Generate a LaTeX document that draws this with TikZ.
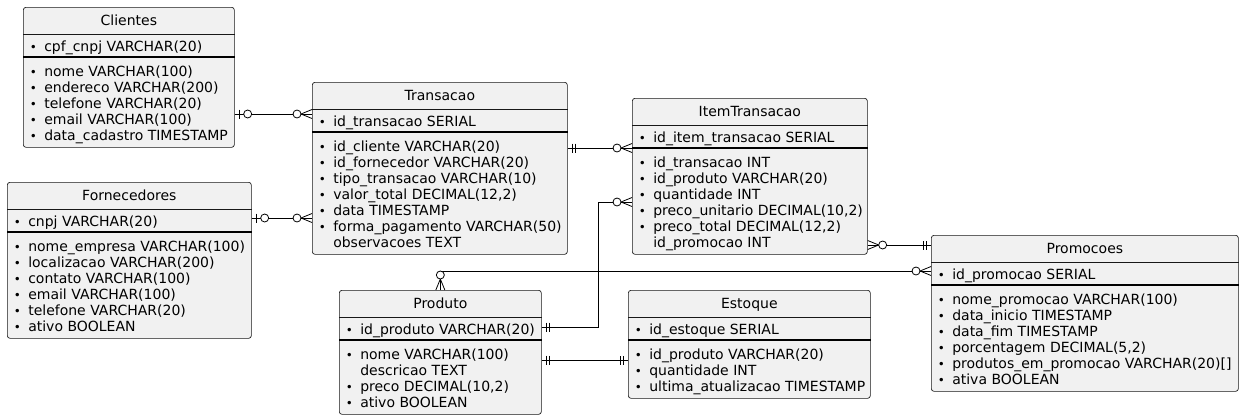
\documentclass[tikz,border=0pt]{standalone}
\usepackage{fontspec}
\setmainfont{DejaVu Sans}
\usetikzlibrary{positioning,calc}
\definecolor{entfill}{HTML}{F1F1F1}
\definecolor{entline}{HTML}{181818}
\newcommand{\erfont}{\fontsize{10.5pt}{12pt}\selectfont}
\newcommand{\bu}{\llap{\makebox[16.5pt]{\scalebox{0.85}{•}}}}
\tikzset{
ent/.style={draw=entline,fill=entfill,line width=0.5pt,rounded corners=2pt,anchor=north west,inner sep=0pt},
entsize/.style 2 args={minimum width=#1*0.75pt,minimum height=#2*0.75pt},
ttl/.style={anchor=base,inner sep=0pt,font=\erfont},
row/.style={anchor=base west,inner sep=0pt,font=\erfont},
tsep/.style={draw=entline,line width=0.5pt},
ksep/.style={draw=black,line width=0.8pt},
rel/.style={draw=black,line width=0.6pt},
one/.pic={\draw[rel] (5,-4.5) -- (5,4.5) (8,-4.5) -- (8,4.5);},
zone/.pic={\draw[rel] (5,-4.5) -- (5,4.5);
  \draw[rel,fill=white] (13,0) circle (4);},
zmany/.pic={\draw[rel] (11,0) -- (0,-4.5) (11,0) -- (0,4.5);
  \draw[rel,fill=white] (15,0) circle (4);},
}

\begin{document}
\begin{tikzpicture}[x=0.75pt,y=-0.75pt]
	\useasboundingbox[fill=white] (0,0) rectangle (1244,418);

	% Clientes
	\node[ent,entsize={211}{140}] (cli) at (23,7) {};
	\node[ttl] (cli-t) at ($(cli.north)+(0,18.5)$) {Clientes};
	\draw[tsep] ($(cli.north west)+(0,27)$) -- ($(cli.north east)+(0,27)$);
	\node[row] (cli-k) at ($(cli.north west)+(21,44)$) {\bu cpf\_cnpj VARCHAR(20)};
	\draw[ksep] ($(cli.north west)+(0,50)$) -- ($(cli.north east)+(0,50)$);
	\foreach \txt [count=\i from 0] in {{\bu nome VARCHAR(100)},{\bu endereco VARCHAR(200)},
		{\bu telefone VARCHAR(20)},{\bu email VARCHAR(100)},{\bu data\_cadastro TIMESTAMP}}
		\node[row] (cli-\i) at ($(cli.north west)+(21,69+16*\i)$) {\txt};

	% Fornecedores
	\node[ent,entsize={244}{156}] (frn) at (7,182) {};
	\node[ttl] (frn-t) at ($(frn.north)+(0,18.5)$) {Fornecedores};
	\draw[tsep] ($(frn.north west)+(0,27)$) -- ($(frn.north east)+(0,27)$);
	\node[row] (frn-k) at ($(frn.north west)+(21,44)$) {\bu cnpj VARCHAR(20)};
	\draw[ksep] ($(frn.north west)+(0,50)$) -- ($(frn.north east)+(0,50)$);
	\foreach \txt [count=\i from 0] in {{\bu nome\_empresa VARCHAR(100)},{\bu localizacao VARCHAR(200)},
		{\bu contato VARCHAR(100)},{\bu email VARCHAR(100)},{\bu telefone VARCHAR(20)},{\bu ativo BOOLEAN}}
		\node[row] (frn-\i) at ($(frn.north west)+(21,69+16*\i)$) {\txt};

	% Transacao
	\node[ent,entsize={255}{172}] (tra) at (312,82) {};
	\node[ttl] (tra-t) at ($(tra.north)+(0,18.5)$) {Transacao};
	\draw[tsep] ($(tra.north west)+(0,27)$) -- ($(tra.north east)+(0,27)$);
	\node[row] (tra-k) at ($(tra.north west)+(21,44)$) {\bu id\_transacao SERIAL};
	\draw[ksep] ($(tra.north west)+(0,50)$) -- ($(tra.north east)+(0,50)$);
	\foreach \txt [count=\i from 0] in {{\bu id\_cliente VARCHAR(20)},{\bu id\_fornecedor VARCHAR(20)},
		{\bu tipo\_transacao VARCHAR(10)},{\bu valor\_total DECIMAL(12,2)},{\bu data TIMESTAMP},
		{\bu forma\_pagamento VARCHAR(50)},{observacoes TEXT}}
		\node[row] (tra-\i) at ($(tra.north west)+(21,69+16*\i)$) {\txt};

	% ItemTransacao
	\node[ent,entsize={235}{156}] (itm) at (632,98) {};
	\node[ttl] (itm-t) at ($(itm.north)+(0,18.5)$) {ItemTransacao};
	\draw[tsep] ($(itm.north west)+(0,27)$) -- ($(itm.north east)+(0,27)$);
	\node[row] (itm-k) at ($(itm.north west)+(21,44)$) {\bu id\_item\_transacao SERIAL};
	\draw[ksep] ($(itm.north west)+(0,50)$) -- ($(itm.north east)+(0,50)$);
	\foreach \txt [count=\i from 0] in {{\bu id\_transacao INT},{\bu id\_produto VARCHAR(20)},
		{\bu quantidade INT},{\bu preco\_unitario DECIMAL(10,2)},{\bu preco\_total DECIMAL(12,2)},
		{id\_promocao INT}}
		\node[row] (itm-\i) at ($(itm.north west)+(21,69+16*\i)$) {\txt};

	% Produto
	\node[ent,entsize={202}{124}] (pro) at (339,290) {};
	\node[ttl] (pro-t) at ($(pro.north)+(0,18.5)$) {Produto};
	\draw[tsep] ($(pro.north west)+(0,27)$) -- ($(pro.north east)+(0,27)$);
	\node[row] (pro-k) at ($(pro.north west)+(21,44)$) {\bu id\_produto VARCHAR(20)};
	\draw[ksep] ($(pro.north west)+(0,50)$) -- ($(pro.north east)+(0,50)$);
	\foreach \txt [count=\i from 0] in {{\bu nome VARCHAR(100)},{descricao TEXT},
		{\bu preco DECIMAL(10,2)},{\bu ativo BOOLEAN}}
		\node[row] (pro-\i) at ($(pro.north west)+(21,69+16*\i)$) {\txt};

	% Estoque
	\node[ent,entsize={242}{108}] (est) at (628,290) {};
	\node[ttl] (est-t) at ($(est.north)+(0,18.5)$) {Estoque};
	\draw[tsep] ($(est.north west)+(0,27)$) -- ($(est.north east)+(0,27)$);
	\node[row] (est-k) at ($(est.north west)+(21,44)$) {\bu id\_estoque SERIAL};
	\draw[ksep] ($(est.north west)+(0,50)$) -- ($(est.north east)+(0,50)$);
	\foreach \txt [count=\i from 0] in {{\bu id\_produto VARCHAR(20)},{\bu quantidade INT},
		{\bu ultima\_atualizacao TIMESTAMP}}
		\node[row] (est-\i) at ($(est.north west)+(21,69+16*\i)$) {\txt};

	% Promocoes
	\node[ent,entsize={307}{156}] (pmc) at (931,235) {};
	\node[ttl] (pmc-t) at ($(pmc.north)+(0,18.5)$) {Promocoes};
	\draw[tsep] ($(pmc.north west)+(0,27)$) -- ($(pmc.north east)+(0,27)$);
	\node[row] (pmc-k) at ($(pmc.north west)+(21,44)$) {\bu id\_promocao SERIAL};
	\draw[ksep] ($(pmc.north west)+(0,50)$) -- ($(pmc.north east)+(0,50)$);
	\foreach \txt [count=\i from 0] in {{\bu nome\_promocao VARCHAR(100)},{\bu data\_inicio TIMESTAMP},
		{\bu data\_fim TIMESTAMP},{\bu porcentagem DECIMAL(5,2)},{\bu produtos\_em\_promocao VARCHAR(20)[]},
		{\bu ativa BOOLEAN}}
		\node[row] (pmc-\i) at ($(pmc.north west)+(21,69+16*\i)$) {\txt};

	% connector ends
	\coordinate (cli-r) at ($(cli.north east)+(0,107)$);
	\coordinate (tra-l1) at ($(tra.north west)+(0,32)$);
	\coordinate (frn-r) at ($(frn.north east)+(0,36)$);
	\coordinate (tra-l2) at ($(tra.north west)+(0,136)$);
	\coordinate (tra-r) at ($(tra.north east)+(0,66)$);
	\coordinate (itm-l1) at ($(itm.north west)+(0,50)$);
	\coordinate (pro-r1) at ($(pro.north east)+(0,37)$);
	\coordinate (itm-l2) at ($(itm.north west)+(0,104)$);
	\coordinate (itm-r) at ($(itm.north east)+(0,147)$);
	\coordinate (pmc-l1) at ($(pmc.north west)+(0,10)$);
	\coordinate (pmc-l2) at ($(pmc.north west)+(0,36)$);
	\coordinate (pro-r2) at ($(pro.north east)+(0,70)$);
	\coordinate (est-l) at ($(est.north west)+(0,70)$);

	\draw[rel] (cli-r) -- (tra-l1);
	\draw[rel] (frn-r) -- (tra-l2);
	\draw[rel] (tra-r) -- (itm-l1);
	\draw[rel] (pro-r1) -- ++(57,0) |- (itm-l2);
	\draw[rel] (itm-r) -- (pmc-l1);
	\draw[rel] (pro.north) |- (pmc-l2);
	\draw[rel] (pro-r2) -- (est-l);

	\pic at (cli-r) {zone};
	\pic[rotate=180] at (tra-l1) {zmany};
	\pic at (frn-r) {zone};
	\pic[rotate=180] at (tra-l2) {zmany};
	\pic at (tra-r) {one};
	\pic[rotate=180] at (itm-l1) {zmany};
	\pic at (pro-r1) {one};
	\pic[rotate=180] at (itm-l2) {zmany};
	\pic at (itm-r) {zmany};
	\pic[rotate=180] at (pmc-l1) {one};
	\pic[rotate=90] at (pro.north) {zmany};
	\pic[rotate=180] at (pmc-l2) {zmany};
	\pic at (pro-r2) {one};
	\pic[rotate=180] at (est-l) {one};
\end{tikzpicture}
\end{document}
